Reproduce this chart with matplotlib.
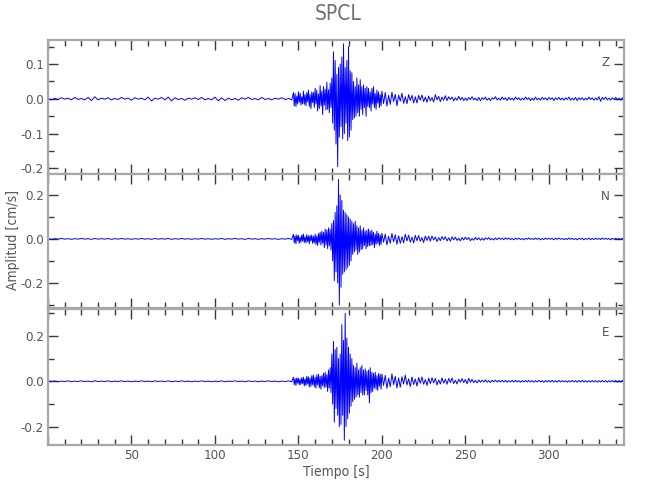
import numpy as np
import matplotlib
matplotlib.use('Agg')
import matplotlib.pyplot as plt
from matplotlib.ticker import MultipleLocator, FormatStrFormatter, FuncFormatter
from matplotlib import font_manager

# ---------------- data ----------------
title = "SPCL"
components = ["Z", "N", "E"]
x_label = "Tiempo [s]"
y_label = "Amplitud [cm/s]"

# time grid of the digitised samples [s]
t_pre = np.arange(0, 147, 2.0)      # 0 .. 146
t_main = np.arange(147, 200, 0.5)   # 147 .. 199.5
t_coda = np.arange(200, 346, 1.0)   # 200 .. 345

Z_pre = [0.002, -0.003, 0.001, -0.002, 0.003, -0.001, 0.002, -0.003, 0.004, -0.002,
         0.001, -0.003, 0.004, -0.005, 0.006, -0.003, 0.002, -0.001, 0.003, -0.003,
         0.001, -0.002, 0.004, -0.001, 0.002, -0.004, 0.003, -0.001, 0.002, -0.003,
         0.005, -0.006, 0.002, -0.001, 0.004, -0.003, 0.005, -0.006, 0.003, -0.002,
         0.001, -0.004, 0.002, -0.001, 0.003, -0.002, 0.004, -0.003, 0.001, -0.003,
         0.005, -0.006, 0.003, -0.005, 0.002, -0.003, 0.001, -0.004, 0.003, -0.001,
         0.004, -0.002, 0.001, -0.003, 0.004, -0.002, 0.001, -0.003, 0.002, -0.001,
         0.003, -0.002, 0.001, -0.003]
Z_main = [0.018, -0.020, 0.015, -0.022, 0.008, -0.015, 0.020, -0.010, 0.016, -0.018,
          0.006, -0.014, 0.022, -0.016, 0.012, -0.020, 0.018, -0.008, 0.025, -0.022,
          0.012, -0.028, 0.020, -0.011, 0.018, -0.025, 0.030, -0.015, 0.025, -0.035,
          0.014, -0.028, 0.038, -0.020, 0.022, -0.045, 0.035, -0.018, 0.028, -0.032,
          0.048, -0.030, 0.026, -0.040, 0.045, -0.025, 0.060, -0.070, 0.135, -0.090,
          0.110, -0.130, 0.070, -0.195, 0.090, -0.110, 0.100, -0.080, 0.120, -0.115,
          0.158, -0.100, 0.090, -0.070, 0.110, -0.120, 0.150, -0.110, 0.080, -0.090,
          0.075, -0.060, 0.050, -0.055, 0.035, -0.050, 0.060, -0.040, 0.040, -0.050,
          0.055, -0.030, 0.035, -0.045, 0.040, -0.025, 0.030, -0.050, 0.035, -0.022,
          0.030, -0.025, 0.020, -0.035, 0.030, -0.015, 0.035, -0.025, 0.015, -0.030,
          0.025, -0.012, 0.020, -0.025, 0.012, -0.020]
Z_coda = [0.022, -0.014, 0.018, -0.021, 0.010, -0.016, 0.019, -0.008, 0.013, -0.020,
          0.011, -0.007, 0.016, -0.013, 0.006, -0.014, 0.012, -0.005, 0.010, -0.012,
          0.006, -0.012, 0.010, -0.004, 0.011, -0.008, 0.005, -0.010, 0.008, -0.006,
          0.004, -0.009, 0.012, -0.003, 0.007, -0.008, 0.005, -0.004, 0.009, -0.005,
          0.006, -0.002, 0.005, -0.006, 0.003, -0.004, 0.007, -0.003, 0.004, -0.005,
          0.002, -0.005, 0.004, -0.002, 0.006, -0.003, 0.002, -0.005, 0.004, -0.006,
          0.003, -0.002, 0.005, -0.004, 0.002, -0.005, 0.003, -0.001, 0.006, -0.003,
          0.002, -0.004, 0.005, -0.002, 0.003, -0.005, 0.004, -0.003, 0.002, -0.004,
          0.005, -0.002, 0.003, -0.004, 0.002, -0.003, 0.005, -0.002, 0.003, -0.005,
          0.002, -0.004, 0.005, -0.003, 0.002, -0.004, 0.004, -0.002, 0.003, -0.004,
          0.004, -0.002, 0.003, -0.005, 0.003, -0.002, 0.004, -0.003, 0.002, -0.004,
          0.003, -0.002, 0.005, -0.004, 0.002, -0.003, 0.004, -0.005, 0.003, -0.002,
          0.003, -0.004, 0.002, -0.003, 0.005, -0.002, 0.003, -0.004, 0.002, -0.003,
          0.006, -0.007, 0.004, -0.002, 0.005, -0.003, 0.002, -0.004, 0.003, -0.002,
          0.004, -0.003, 0.002, -0.004, 0.003, -0.002]

N_pre = [0.001, -0.002, 0.001, -0.001, 0.002, -0.001, 0.001, -0.002, 0.001, -0.001,
         0.002, -0.001, 0.001, -0.002, 0.002, -0.001, 0.001, -0.001, 0.002, -0.002,
         0.001, -0.001, 0.002, -0.001, 0.001, -0.002, 0.001, -0.001, 0.002, -0.001,
         0.001, -0.002, 0.002, -0.001, 0.001, -0.001, 0.002, -0.002, 0.001, -0.001,
         0.002, -0.001, 0.001, -0.002, 0.001, -0.001, 0.002, -0.001, 0.001, -0.002,
         0.001, -0.001, 0.002, -0.002, 0.001, -0.001, 0.002, -0.001, 0.001, -0.002,
         0.002, -0.001, 0.001, -0.002, 0.001, -0.001, 0.002, -0.001, 0.001, -0.002,
         0.001, -0.001, 0.002, -0.002]
N_main = [0.020, -0.018, 0.015, -0.022, 0.018, -0.008, 0.016, -0.020, 0.008, -0.015,
          0.018, -0.010, 0.022, -0.016, 0.009, -0.018, 0.020, -0.012, 0.014, -0.022,
          0.016, -0.009, 0.018, -0.020, 0.011, -0.018, 0.022, -0.025, 0.014, -0.030,
          0.025, -0.016, 0.030, -0.028, 0.035, -0.020, 0.030, -0.040, 0.045, -0.028,
          0.040, -0.045, 0.050, -0.032, 0.045, -0.050, 0.070, -0.100, 0.083, -0.190,
          0.120, -0.150, 0.150, -0.200, 0.270, -0.300, 0.200, -0.220, 0.175, -0.160,
          0.130, -0.150, 0.120, -0.140, 0.110, -0.130, 0.100, -0.120, 0.090, -0.100,
          0.080, -0.070, 0.070, -0.060, 0.080, -0.050, 0.060, -0.070, 0.050, -0.060,
          0.060, -0.050, 0.040, -0.045, 0.050, -0.030, 0.035, -0.045, 0.040, -0.035,
          0.045, -0.030, 0.035, -0.030, 0.040, -0.025, 0.030, -0.040, 0.022, -0.025,
          0.035, -0.020, 0.025, -0.030, 0.018, -0.025]
N_coda = [0.026, -0.015, 0.022, -0.027, 0.012, -0.020, 0.025, -0.013, 0.019, -0.024,
          0.014, -0.020, 0.010, -0.018, 0.021, -0.009, 0.017, -0.015, 0.008, -0.018,
          0.016, -0.008, 0.015, -0.011, 0.006, -0.016, 0.013, -0.007, 0.012, -0.010,
          0.013, -0.005, 0.009, -0.012, 0.006, -0.008, 0.011, -0.004, 0.010, -0.009,
          0.005, -0.010, 0.009, -0.004, 0.008, -0.007, 0.003, -0.009, 0.006, -0.005,
          0.008, -0.003, 0.006, -0.008, 0.002, -0.006, 0.007, -0.004, 0.005, -0.006,
          0.003, -0.006, 0.005, -0.002, 0.006, -0.004, 0.002, -0.005, 0.004, -0.003,
          0.005, -0.002, 0.003, -0.004, 0.005, -0.002, 0.004, -0.003, 0.002, -0.004,
          0.003, -0.002, 0.004, -0.003, 0.002, -0.004, 0.003, -0.002, 0.004, -0.002,
          0.002, -0.003, 0.004, -0.002, 0.003, -0.004, 0.002, -0.003, 0.004, -0.002,
          0.003, -0.002, 0.002, -0.004, 0.003, -0.002, 0.004, -0.002, 0.002, -0.003,
          0.002, -0.003, 0.004, -0.002, 0.003, -0.003, 0.002, -0.004, 0.003, -0.002,
          0.003, -0.004, 0.002, -0.002, 0.004, -0.003, 0.002, -0.003, 0.003, -0.002,
          0.002, -0.003, 0.004, -0.002, 0.003, -0.002, 0.002, -0.004, 0.003, -0.002,
          0.003, -0.002, 0.002, -0.003, 0.003, -0.002]

E_pre = [0.002, -0.001, 0.001, -0.002, 0.001, -0.001, 0.002, -0.002, 0.001, -0.001,
         0.002, -0.001, 0.001, -0.002, 0.002, -0.001, 0.001, -0.001, 0.002, -0.002,
         0.001, -0.001, 0.002, -0.001, 0.001, -0.002, 0.001, -0.001, 0.002, -0.001,
         0.001, -0.002, 0.002, -0.001, 0.001, -0.001, 0.002, -0.002, 0.001, -0.001,
         0.002, -0.001, 0.001, -0.002, 0.001, -0.001, 0.002, -0.001, 0.001, -0.002,
         0.001, -0.001, 0.002, -0.002, 0.001, -0.001, 0.002, -0.001, 0.001, -0.002,
         0.002, -0.001, 0.001, -0.002, 0.001, -0.001, 0.002, -0.001, 0.001, -0.002,
         0.001, -0.001, 0.002, -0.002]
E_main = [0.018, -0.015, 0.012, -0.018, 0.015, -0.008, 0.014, -0.016, 0.009, -0.014,
          0.016, -0.010, 0.018, -0.020, 0.011, -0.018, 0.022, -0.012, 0.020, -0.025,
          0.014, -0.022, 0.025, -0.015, 0.028, -0.024, 0.018, -0.030, 0.028, -0.016,
          0.032, -0.028, 0.022, -0.035, 0.025, -0.020, 0.035, -0.028, 0.040, -0.025,
          0.030, -0.045, 0.050, -0.030, 0.060, -0.050, 0.120, -0.100, 0.176, -0.180,
          0.140, -0.120, 0.150, -0.150, 0.100, -0.200, 0.120, -0.190, 0.250, -0.150,
          0.180, -0.260, 0.300, -0.200, 0.190, -0.165, 0.150, -0.140, 0.120, -0.110,
          0.100, -0.090, 0.070, -0.080, 0.060, -0.070, 0.080, -0.060, 0.050, -0.070,
          0.060, -0.050, 0.070, -0.060, 0.050, -0.060, 0.055, -0.040, 0.045, -0.060,
          0.050, -0.095, 0.060, -0.050, 0.040, -0.045, 0.035, -0.030, 0.040, -0.035,
          0.025, -0.040, 0.035, -0.022, 0.030, -0.035]
E_coda = [0.032, -0.018, 0.026, -0.031, 0.014, -0.024, 0.033, -0.015, 0.022, -0.029,
          0.015, -0.026, 0.020, -0.012, 0.027, -0.016, 0.011, -0.023, 0.019, -0.014,
          0.010, -0.021, 0.017, -0.009, 0.019, -0.013, 0.008, -0.018, 0.014, -0.010,
          0.016, -0.007, 0.013, -0.016, 0.006, -0.012, 0.015, -0.008, 0.009, -0.013,
          0.013, -0.006, 0.015, -0.010, 0.005, -0.012, 0.009, -0.004, 0.012, -0.006,
          0.008, -0.011, 0.013, -0.005, 0.009, -0.006, 0.004, -0.007, 0.006, -0.004,
          0.005, -0.003, 0.006, -0.004, 0.003, -0.005, 0.004, -0.002, 0.005, -0.003,
          0.004, -0.003, 0.005, -0.003, 0.004, -0.004, 0.003, -0.003, 0.004, -0.003,
          0.004, -0.003, 0.003, -0.004, 0.003, -0.003, 0.004, -0.003, 0.004, -0.003,
          0.003, -0.004, 0.003, -0.003, 0.004, -0.003, 0.003, -0.004, 0.003, -0.003,
          0.004, -0.003, 0.004, -0.003, 0.003, -0.004, 0.004, -0.003, 0.003, -0.003,
          0.003, -0.004, 0.003, -0.003, 0.004, -0.003, 0.003, -0.004, 0.004, -0.003,
          0.004, -0.003, 0.003, -0.004, 0.003, -0.003, 0.004, -0.003, 0.003, -0.004,
          0.003, -0.003, 0.004, -0.003, 0.003, -0.004, 0.003, -0.003, 0.004, -0.003,
          0.003, -0.004, 0.003, -0.003, 0.004, -0.003]

y_limits = {"Z": (-0.216, 0.169), "N": (-0.314, 0.295), "E": (-0.281, 0.319)}
y_major = {"Z": 0.1, "N": 0.2, "E": 0.2}
x_limits = (0, 345)

# ---------------- assemble ----------------
def assemble(pre, main, coda):
    t_parts, a_parts = [], []
    for tt, aa in ((t_pre, pre), (t_main, main), (t_coda, coda)):
        n = min(len(tt), len(aa))
        t_parts.append(tt[:n])
        a_parts.append(np.asarray(aa[:n]))
    return np.concatenate(t_parts), np.concatenate(a_parts)

traces = {
    "Z": assemble(Z_pre, Z_main, Z_coda),
    "N": assemble(N_pre, N_main, N_coda),
    "E": assemble(E_pre, E_main, E_coda),
}

# ---------------- style ----------------
ttf = font_manager.fontManager.ttflist
if any(f.name == 'Liberation Sans Narrow' for f in ttf):
    plt.rcParams['font.family'] = ['Liberation Sans Narrow', 'DejaVu Sans']
elif any(f.name == 'DejaVu Sans' and str(f.stretch) in ('condensed', 'semi-condensed', '300', '400')
         and 'Condensed' in f.fname for f in ttf):
    plt.rcParams['font.family'] = ['DejaVu Sans']
    plt.rcParams['font.stretch'] = 'condensed'
else:
    plt.rcParams['font.family'] = ['Liberation Sans', 'DejaVu Sans']

frame_col = '#a8a8a8'
tick_col = '#3a3a3a'
text_col = '#555555'

fig = plt.figure(figsize=(6.5, 5.0), dpi=100)
left, width = 48 / 650, (624 - 48) / 650
rows = {"Z": (40, 174), "N": (174, 308), "E": (309, 445)}

axes = {}
for comp in components:
    top_px, bot_px = rows[comp]
    ax = fig.add_axes([left, 1 - bot_px / 500, width, (bot_px - top_px) / 500])
    axes[comp] = ax
    t, a = traces[comp]
    ax.plot(t, a, color='#0000ff', lw=0.7)
    ax.set_xlim(*x_limits)
    ax.set_ylim(*y_limits[comp])
    ax.xaxis.set_major_locator(MultipleLocator(50))
    ax.xaxis.set_minor_locator(MultipleLocator(10))
    ax.xaxis.set_major_formatter(FuncFormatter(lambda v, p: '' if abs(v) < 1e-9 else f'{v:g}'))
    ax.yaxis.set_major_locator(MultipleLocator(y_major[comp]))
    ax.yaxis.set_minor_locator(MultipleLocator(y_major[comp] / 2))
    ax.yaxis.set_major_formatter(FormatStrFormatter('%.1f'))
    ax.tick_params(which='both', direction='in', top=True, right=True,
                   color=tick_col, labelcolor=text_col, labelsize=9.5, width=1.0)
    ax.tick_params(which='major', length=7, pad=3)
    ax.tick_params(which='minor', length=4)
    for sp in ax.spines.values():
        sp.set_color(frame_col)
        sp.set_linewidth(1.6)
    if comp != "E":
        ax.tick_params(labelbottom=False)
    ax.text(0.975, 0.83, comp, transform=ax.transAxes, ha='right', va='center',
            color=text_col, fontsize=9.5)

fig.text(338 / 650, 1 - 14 / 500, title, ha='center', va='center',
         color='#707070', fontsize=15)
axes["E"].set_xlabel(x_label, color=text_col, fontsize=10, labelpad=2)
fig.text(13 / 650, 1 - 240 / 500, y_label, rotation=90, ha='center', va='center',
         color=text_col, fontsize=10)

fig.savefig('out.png', dpi=100)
